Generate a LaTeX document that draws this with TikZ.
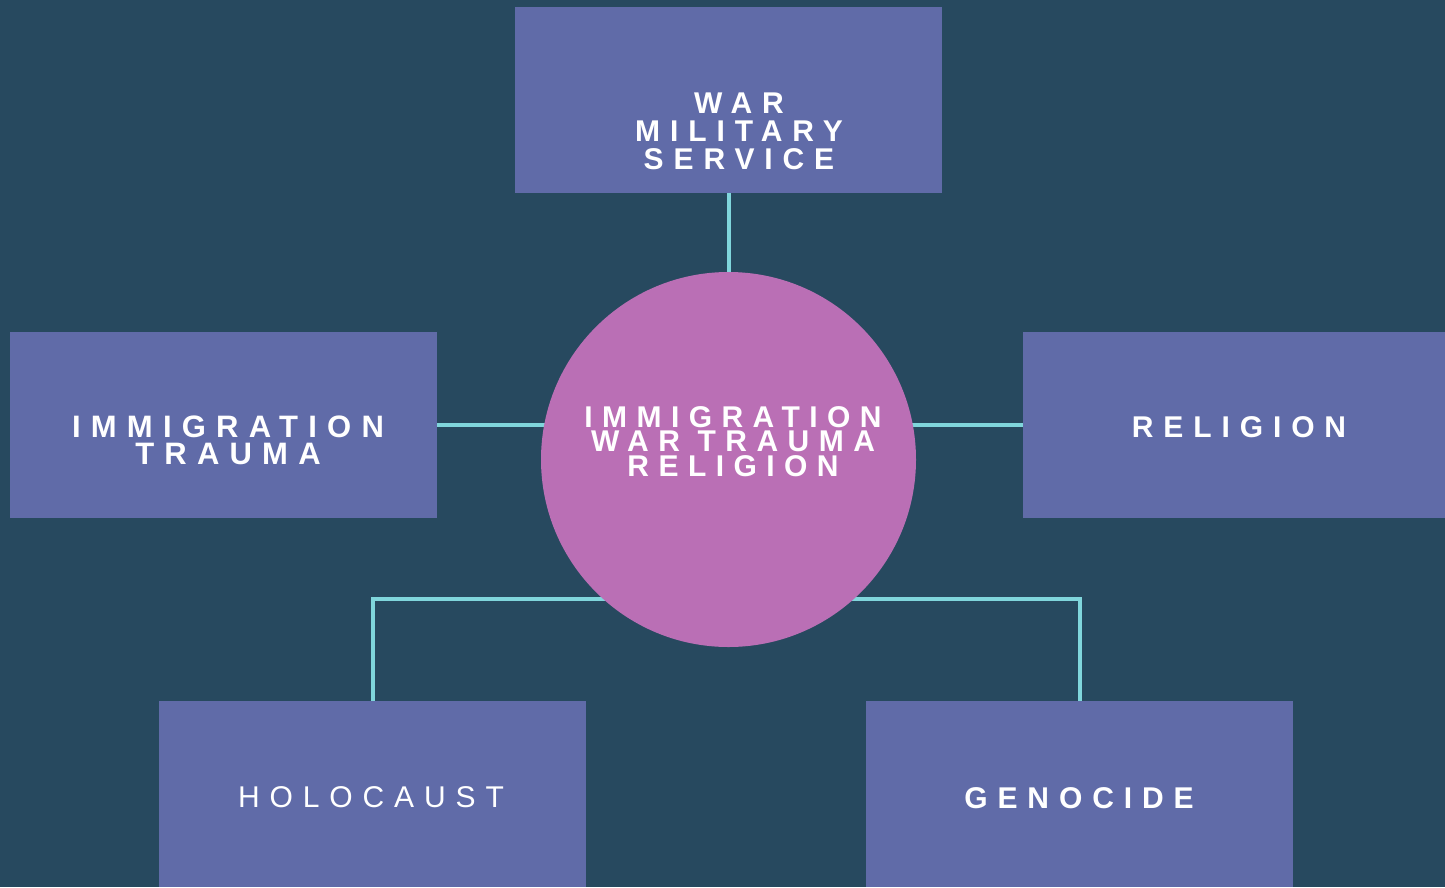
\documentclass[tikz,border=0pt]{standalone}
\usepackage{fontspec}
\setmainfont{Liberation Sans}
\newfontfamily\spacedfont[LetterSpace=33]{Liberation Sans}
\newfontfamily\holfont[LetterSpace=33]{Liberation Sans}
\definecolor{bgc}{HTML}{27495F}
\definecolor{boxc}{HTML}{606BA8}
\definecolor{circc}{HTML}{BA6FB5}
\definecolor{linec}{HTML}{80D6DC}
\pgfdeclarelayer{lines}
\pgfsetlayers{lines,main}
\tikzset{
  box/.style={fill=boxc, draw=none, minimum width=427pt, minimum height=186pt, inner sep=0pt},
  conn/.style={draw=linec, line width=4pt},
  lbl/.style={text=white, align=center, inner sep=0pt, anchor=base},
}
\begin{document}
\begin{tikzpicture}[x=1pt,y=-1pt]
\useasboundingbox (0,0) rectangle (1445,887);
\begin{pgfonlayer}{lines}
\fill[bgc] (0,0) rectangle (1445,887);
\end{pgfonlayer}
\node[box] (top) at (728.5,100) {};
\node[box] (left) at (223.5,425) {};
\node[box, minimum width=422pt] (right) at (1234,425) {};
\node[box] (hol) at (372.5,794) {};
\node[box] (gen) at (1079.5,794) {};
\node[circle, fill=circc, minimum size=375pt, inner sep=0pt] (circ) at (728.5,459.5) {};
\coordinate (jn) at (728.5,599);
\begin{pgfonlayer}{lines}
\draw[conn] (top.south) -- (circ.north);
\draw[conn] (left.east) -- (left.east -| circ.center);
\draw[conn] (right.west) -- (right.west -| circ.center);
\draw[conn] (hol.north) |- (jn);
\draw[conn] (gen.north) |- (jn);
\end{pgfonlayer}
\node[lbl, font=\spacedfont\bfseries\fontsize{30}{28}\selectfont] (ttop) at (739,169) {WAR\\MILITARY\\SERVICE};
\node[lbl, font=\spacedfont\bfseries\fontsize{30}{24.5}\selectfont\addfontfeature{LetterSpace=31.5}] (tcirc) at (733,476) {IMMIGRATION\\WAR TRAUMA\\RELIGION};
\node[lbl, font=\spacedfont\bfseries\fontsize{31}{27}\selectfont] (tleft) at (228,464) {IMMIGRATION\\TRAUMA};
\node[lbl, font=\spacedfont\bfseries\fontsize{30}{28}\selectfont] (tright) at (1239,437) {RELIGION};
\node[lbl, font=\holfont\fontsize{30}{28}\selectfont] (thol) at (371,807) {HOLOCAUST};
\node[lbl, font=\spacedfont\bfseries\fontsize{30}{28}\selectfont] (tgen) at (1079,808) {GENOCIDE};
\end{tikzpicture}
\end{document}
